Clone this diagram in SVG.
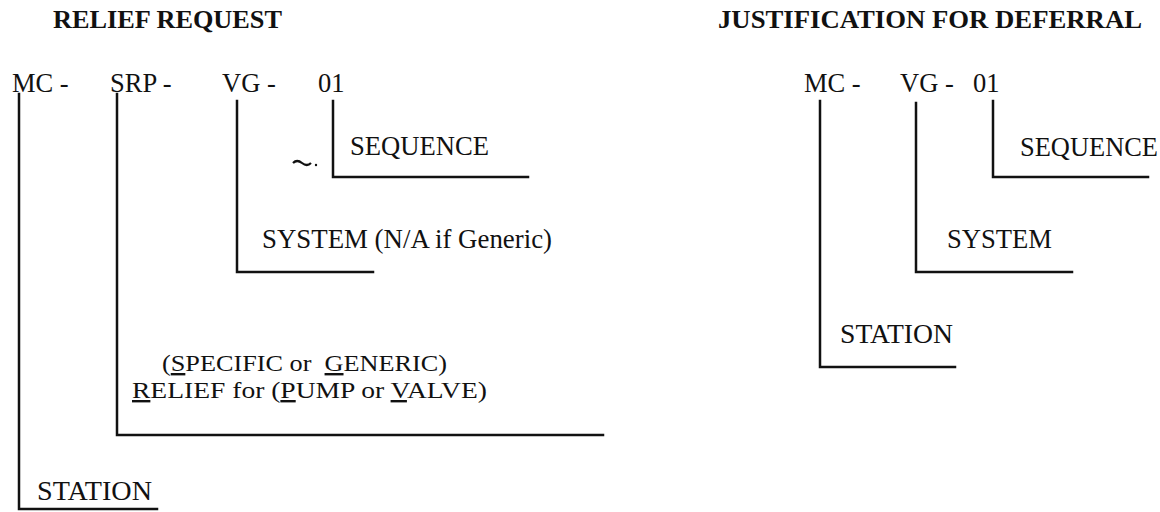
<svg xmlns="http://www.w3.org/2000/svg" width="1160" height="512" viewBox="0 0 1160 512">
<style>
text{font-family:"Liberation Serif","Times New Roman",serif;fill:#111;white-space:pre}
.h{font-weight:bold;font-size:25px}
.t{font-size:26.5px}
.s{font-size:24px}
.u{text-decoration:underline}
.ln{stroke:#111;stroke-width:2.5;fill:none;stroke-linecap:square}
</style>
<rect width="1160" height="512" fill="#fff"/>
<g id="left-title"><text class="h" x="53" y="28" textLength="229" lengthAdjust="spacingAndGlyphs">RELIEF REQUEST</text></g>
<g id="left-code">
<text class="t" x="12" y="92">MC -</text>
<text class="t" x="110" y="92">SRP -</text>
<text class="t" x="222" y="92">VG -</text>
<text class="t" x="318" y="92">01</text>
</g>
<g id="left-sequence"><text class="t" x="350" y="155" textLength="139" lengthAdjust="spacingAndGlyphs">SEQUENCE</text></g>
<g id="left-system"><text class="t" x="262" y="248" textLength="290" lengthAdjust="spacingAndGlyphs">SYSTEM (N/A if Generic)</text></g>
<g id="left-relief">
<text class="s" x="162" y="371" textLength="285" lengthAdjust="spacingAndGlyphs">(<tspan class="u">S</tspan>PECIFIC or  <tspan class="u">G</tspan>ENERIC)</text>
<text class="s" x="132" y="398" textLength="355" lengthAdjust="spacingAndGlyphs"><tspan class="u">R</tspan>ELIEF for (<tspan class="u">P</tspan>UMP or <tspan class="u">V</tspan>ALVE)</text>
</g>
<g id="left-station"><text class="t" x="37" y="500" textLength="115" lengthAdjust="spacingAndGlyphs">STATION</text></g>
<g id="right-title"><text class="h" x="718" y="28" textLength="424" lengthAdjust="spacingAndGlyphs">JUSTIFICATION FOR DEFERRAL</text></g>
<g id="right-code">
<text class="t" x="804" y="92">MC -</text>
<text class="t" x="900" y="92">VG -</text>
<text class="t" x="973" y="92">01</text>
</g>
<g id="right-sequence"><text class="t" x="1020" y="156" textLength="138" lengthAdjust="spacingAndGlyphs">SEQUENCE</text></g>
<g id="right-system"><text class="t" x="947" y="248" textLength="105" lengthAdjust="spacingAndGlyphs">SYSTEM</text></g>
<g id="right-station"><text class="t" x="840" y="343" textLength="113" lengthAdjust="spacingAndGlyphs">STATION</text></g>
<g id="connectors">
<path class="ln" d="M19,94 V509 H157"/>
<path class="ln" d="M117,94 V435 H603"/>
<path class="ln" d="M237,101 V272 H373"/>
<path class="ln" d="M333,101 V177 H528"/>
<path class="ln" d="M820,101 V367 H955"/>
<path class="ln" d="M916,103 V272 H1072"/>
<path class="ln" d="M993,101 V177 H1148"/>
</g>
<g id="mark">
<path d="M293,163 q4,-4 9,0 t9,0" stroke="#111" stroke-width="2.2" fill="none"/>
<circle cx="316" cy="165" r="1.2" fill="#111"/>
</g>
</svg>
